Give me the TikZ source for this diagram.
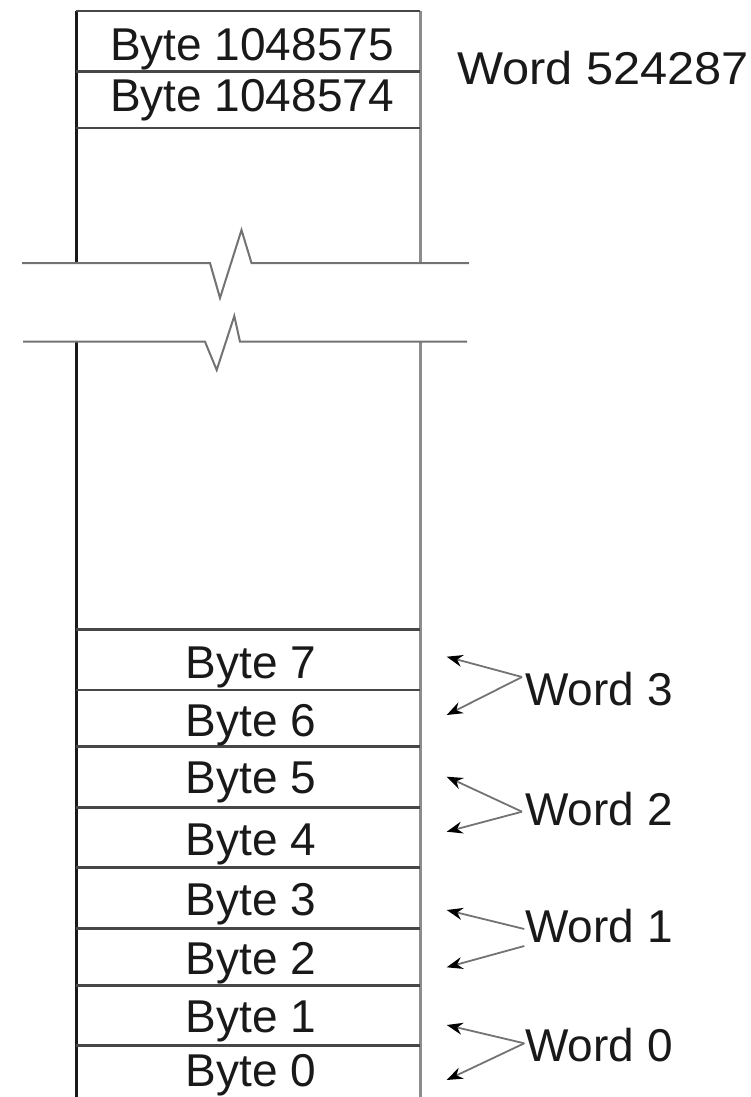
\documentclass[tikz,border=0pt]{standalone}
\usepackage{fontspec}
\setmainfont{Liberation Sans}
\usetikzlibrary{arrows.meta}
\begin{document}
\begin{tikzpicture}[x=1pt,y=-1pt,
  lbl/.style={inner sep=0pt, anchor=base, font=\fontsize{46}{50}\selectfont, text=black!90},
  wlbl/.style={lbl, anchor=base west},
  hline/.style={line width=2.5pt, draw=black!72},
  brk/.style={line width=2pt, draw=black!55},
  lft/.style={line width=3pt, draw=black!90},
  rgt/.style={line width=3pt, draw=black!45},
  arr/.style={line width=1.8pt, draw=black!55, -{Stealth[length=16pt,width=12pt,black]}}]
\useasboundingbox (0,0) rectangle (751,1097);
% vertical edges
\draw[lft] (76,11) -- (76,263);
\draw[lft] (76,341.7) -- (76,1097);
\draw[rgt] (420,11) -- (420,263);
\draw[rgt] (420,341.7) -- (420,1097);
% top rows
\foreach \y in {11,71.5,128} \draw[hline] (76,\y) -- (420,\y);
% bottom rows
\foreach \y in {629.3,690,746.7,807.3,867.3,928.3,985.7,1045.7} \draw[hline] (76,\y) -- (420,\y);
% break lines
\draw[brk] (22,263) -- (210,263) -- (220,298) -- (241.5,230) -- (251.5,263) -- (469,263);
\draw[brk] (23,341.7) -- (205,341.7) -- (216.7,370) -- (234.3,316) -- (240,341.7) -- (467,341.7);
% texts
\node[lbl] (btop) at (252,61) {Byte 1048575};
\node[lbl] (btop2) at (252,112) {Byte 1048574};
\node[wlbl] (wtop) at (457,85) {\scalebox{1.06}[1]{Word 524287}};
\node[lbl] (b7) at (251,678) {Byte 7};
\node[lbl] (b6) at (251,736.7) {Byte 6};
\node[lbl] (b5) at (251,793) {Byte 5};
\node[lbl] (b4) at (251,855) {Byte 4};
\node[lbl] (b3) at (251,915) {Byte 3};
\node[lbl] (b2) at (251,974) {Byte 2};
\node[lbl] (b1) at (251,1032.7) {Byte 1};
\node[lbl] (b0) at (251,1086) {Byte 0};
\node[wlbl] (w3) at (525,705) {Word 3};
\node[wlbl] (w2) at (525,825) {Word 2};
\node[wlbl] (w1) at (525,942.7) {Word 1};
\node[wlbl] (w0) at (525,1061.7) {Word 0};
% arrow coordinates
\coordinate (s3) at (522,677);
\coordinate (t7) at (446.7,656.7);
\coordinate (t6) at (446.7,715);
\coordinate (s2) at (522,811.7);
\coordinate (t5) at (446.7,776.7);
\coordinate (t4) at (446.7,831.7);
\coordinate (s1a) at (524.3,929);
\coordinate (s1b) at (524.3,946);
\coordinate (t3) at (446.7,910);
\coordinate (t2) at (446.7,967.3);
\coordinate (s0) at (524.3,1043.3);
\coordinate (t1) at (446.7,1025);
\coordinate (t0) at (446.7,1080);
\draw[arr] (s3) -- (t7);
\draw[arr] (s3) -- (t6);
\draw[arr] (s2) -- (t5);
\draw[arr] (s2) -- (t4);
\draw[arr] (s1a) -- (t3);
\draw[arr] (s1b) -- (t2);
\draw[arr] (s0) -- (t1);
\draw[arr] (s0) -- (t0);
\end{tikzpicture}
\end{document}
